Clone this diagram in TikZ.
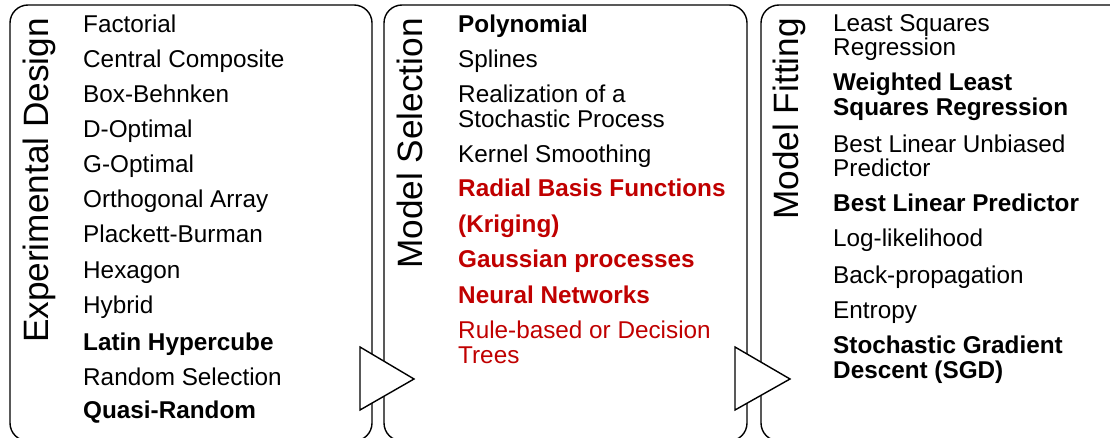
\documentclass[tikz,border=0pt]{standalone}
\usepackage{fontspec}
\setmainfont{Liberation Sans}
\begin{document}
\definecolor{hotred}{RGB}{192,0,0}
\begin{tikzpicture}[x=1pt,y=-1pt,
  panel/.style={draw=black,line width=1.4pt,rounded corners=18pt},
  title/.style={rotate=90,anchor=base east,inner sep=0pt,font=\fontsize{35.2}{36}\selectfont},
  entry/.style={anchor=base west,inner sep=0pt,font=\fontsize{24.3}{25}\selectfont},
  strong/.style={entry,font=\fontsize{24.3}{25}\selectfont\bfseries},
  redstrong/.style={strong,text=hotred},
  redentry/.style={entry,text=hotred},
  flow/.style={draw=black,fill=white,line width=1.4pt,line join=miter}]
\useasboundingbox (0,0) rectangle (1110,438);
\clip (0,0) rectangle (1110,438);

% three stage panels
\draw[panel] (10,5) rectangle (372,441);
\draw[panel] (384,5) rectangle (747,441);
\draw[panel] (761,5) rectangle (1130,441);

% stage titles
\node[title] (t1) at (48,18) {Experimental Design};
\node[title] (t2) at (422,18) {Model Selection};
\node[title] (t3) at (798,18) {Model Fitting};

% experimental design methods
\node[entry]  (a1)  at (83,33)  {Factorial};
\node[entry]  (a2)  at (83,68)  {Central Composite};
\node[entry]  (a3)  at (83,103) {Box-Behnken};
\node[entry]  (a4)  at (83,138) {D-Optimal};
\node[entry]  (a5)  at (83,173) {G-Optimal};
\node[entry]  (a6)  at (83,208) {Orthogonal Array};
\node[entry]  (a7)  at (83,243) {Plackett-Burman};
\node[entry]  (a8)  at (83,278) {Hexagon};
\node[entry]  (a9)  at (83,313) {Hybrid};
\node[strong] (a10) at (83,350) {Latin Hypercube};
\node[entry]  (a11) at (83,385) {Random Selection};
\node[strong] (a12) at (83,418) {Quasi-Random};

% model types
\node[strong]    (b1)  at (458,33)  {Polynomial};
\node[entry]     (b2)  at (458,68)  {Splines};
\node[entry]     (b3)  at (458,103) {Realization of a};
\node[entry]     (b3b) at (458,128) {Stochastic Process};
\node[entry]     (b4)  at (458,163) {Kernel Smoothing};
\node[redstrong] (b5)  at (458,197) {Radial Basis Functions};
\node[redstrong] (b6)  at (458,233) {(Kriging)};
\node[redstrong] (b7)  at (458,268) {Gaussian processes};
\node[redstrong] (b8)  at (458,303) {Neural Networks};
\node[redentry]  (b9)  at (458,338) {Rule-based or Decision};
\node[redentry]  (b9b) at (458,363) {Trees};

% fitting criteria
\node[entry]  (c1)  at (833,32)  {Least Squares};
\node[entry]  (c1b) at (833,56)  {Regression};
\node[strong] (c2)  at (833,91)  {Weighted Least};
\node[strong] (c2b) at (833,116) {Squares Regression};
\node[entry]  (c3)  at (833,153) {Best Linear Unbiased};
\node[entry]  (c3b) at (833,177) {Predictor};
\node[strong] (c4)  at (833,212) {Best Linear Predictor};
\node[entry]  (c5)  at (833,247) {Log-likelihood};
\node[entry]  (c6)  at (833,283) {Back-propagation};
\node[entry]  (c7)  at (833,318) {Entropy};
\node[strong] (c8)  at (833,353) {Stochastic Gradient};
\node[strong] (c8b) at (833,378) {Descent (SGD)};

% flow markers between stages
\draw[flow] (360,347) -- (414,379) -- (360,410) -- cycle;
\draw[flow] (735,347) -- (790,379) -- (735,410) -- cycle;
\end{tikzpicture}
\end{document}
